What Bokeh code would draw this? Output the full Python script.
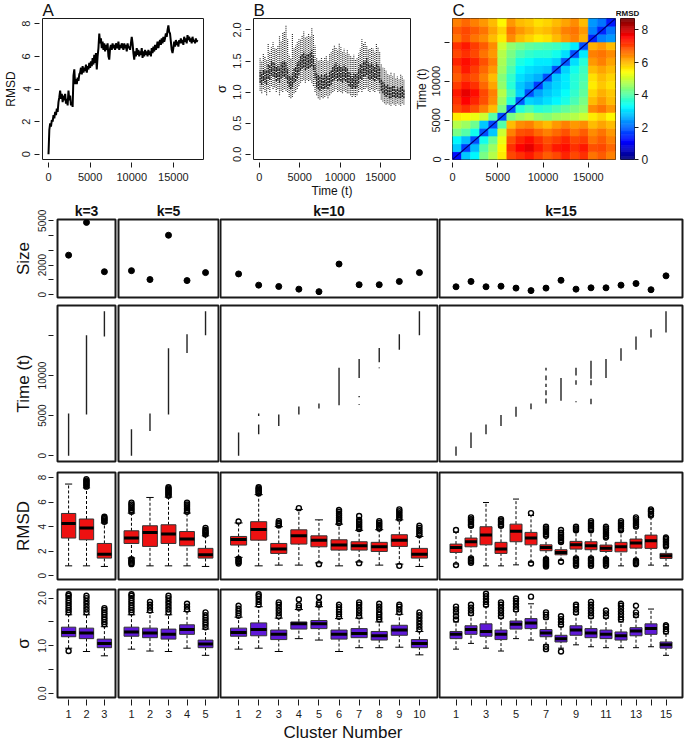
import math
from bokeh.plotting import figure
from bokeh.layouts import column, row
from bokeh.models import FixedTicker, LinearColorMapper, Title, ColumnDataSource
from bokeh.embed import file_html
from bokeh.resources import INLINE

FONT = "Liberation Sans"

# ---------------- Panel A: RMSD trace (time step 100) ----------------
rmsd_t_step = 100
rmsd_trace = [
    0.0, 1.5, 1.9, 1.7, 2.1, 2.0, 2.4, 2.2, 2.6, 2.4,
    2.8, 2.6, 3.2, 3.5, 3.9, 3.4, 3.7, 3.2, 3.6, 3.3,
    3.7, 3.1, 3.4, 3.0, 3.9, 3.3, 3.6, 3.0, 3.2, 2.9,
    4.8, 5.2, 4.3, 4.6, 4.3, 4.7, 4.5, 4.9, 5.0, 5.3,
    4.9, 5.4, 5.0, 5.3, 5.1, 5.5, 5.0, 5.4, 5.2, 5.6,
    5.3, 5.7, 5.4, 5.9, 5.5, 6.1, 5.6, 6.2, 5.2, 6.0,
    6.5, 7.4, 6.8, 7.1, 6.5, 6.9, 6.4, 6.8, 6.3, 6.7,
    6.4, 6.8, 6.0, 5.8, 6.5, 6.7, 6.4, 6.8, 6.5, 6.7,
    6.4, 6.8, 6.6, 6.5, 6.9, 6.4, 6.7, 6.5, 6.8, 6.6,
    6.4, 6.8, 6.5, 6.7, 6.3, 6.8, 6.5, 6.6, 6.4, 6.8,
    7.2, 6.8, 6.2, 5.8, 6.3, 6.0, 6.5, 6.1, 6.4, 6.0,
    6.3, 6.1, 6.5, 5.9, 6.3, 6.0, 6.4, 6.1, 6.3, 6.0,
    6.4, 6.1, 6.3, 6.0, 6.5, 6.2, 6.6, 6.3, 6.7, 6.4,
    6.6, 6.9, 6.5, 6.8, 7.0, 6.7, 7.1, 6.8, 7.2, 6.9,
    7.1, 7.4, 7.2, 7.6, 7.9, 7.5, 7.4, 6.9, 6.4, 6.2,
    6.5, 6.9, 6.6, 7.0, 6.7, 6.9, 6.6, 7.0, 6.8, 7.1,
    6.8, 7.0, 6.7, 7.2, 6.9, 7.1, 6.8, 7.3, 7.0, 7.2,
    6.9, 7.1, 6.8, 7.2, 6.9, 7.0, 6.8, 7.1, 6.9, 7.0,
]

# ---------------- Panel B: sigma scatter (bins of 200 time units) ----------------
sig_t_step = 200
sig_lo = [1.02, 0.98, 1.05, 1.00, 0.95, 1.05, 1.00, 1.10, 1.05, 1.08,
          1.00, 1.05, 0.95, 1.02, 1.00, 1.05, 1.02, 1.00, 0.92, 0.90,
          0.92, 0.98, 1.00, 1.05, 1.10, 1.15, 1.18, 1.20, 1.15, 1.20,
          1.18, 1.20, 1.15, 1.10, 1.00, 0.95, 0.90, 0.88, 0.92, 0.90,
          0.92, 0.95, 0.90, 0.95, 0.98, 1.00, 1.02, 1.05, 1.00, 1.02,
          1.00, 0.98, 1.02, 1.00, 0.98, 0.98, 0.95, 0.92, 0.95, 0.92,
          0.95, 1.00, 1.05, 1.00, 1.05, 1.05, 1.08, 1.02, 1.00, 1.05,
          1.02, 1.00, 1.05, 1.02, 0.98, 0.88, 0.85, 0.82, 0.80, 0.82,
          0.80, 0.78, 0.82, 0.80, 0.78, 0.82, 0.80, 0.78, 0.82, 0.80]
sig_q1 = [1.15, 1.12, 1.18, 1.15, 1.12, 1.22, 1.20, 1.28, 1.25, 1.24,
          1.18, 1.20, 1.15, 1.22, 1.25, 1.25, 1.22, 1.15, 1.08, 1.05,
          1.08, 1.15, 1.18, 1.22, 1.28, 1.35, 1.38, 1.40, 1.35, 1.38,
          1.38, 1.40, 1.42, 1.35, 1.22, 1.08, 1.05, 1.02, 1.06, 1.05,
          1.06, 1.08, 1.05, 1.10, 1.12, 1.18, 1.20, 1.22, 1.18, 1.20,
          1.18, 1.15, 1.20, 1.18, 1.15, 1.10, 1.08, 1.05, 1.08, 1.06,
          1.08, 1.15, 1.22, 1.20, 1.25, 1.25, 1.28, 1.22, 1.20, 1.22,
          1.20, 1.18, 1.22, 1.20, 1.15, 1.02, 0.98, 0.95, 0.92, 0.95,
          0.90, 0.90, 0.92, 0.92, 0.90, 0.92, 0.90, 0.90, 0.92, 0.90]
sig_q3 = [1.35, 1.32, 1.38, 1.36, 1.34, 1.45, 1.42, 1.52, 1.48, 1.46,
          1.42, 1.45, 1.40, 1.48, 1.50, 1.50, 1.48, 1.40, 1.28, 1.25,
          1.30, 1.38, 1.42, 1.48, 1.52, 1.58, 1.62, 1.65, 1.60, 1.62,
          1.62, 1.65, 1.68, 1.58, 1.45, 1.30, 1.28, 1.25, 1.28, 1.25,
          1.28, 1.30, 1.26, 1.32, 1.35, 1.42, 1.45, 1.48, 1.42, 1.45,
          1.42, 1.40, 1.45, 1.40, 1.38, 1.32, 1.30, 1.26, 1.30, 1.28,
          1.30, 1.38, 1.45, 1.45, 1.50, 1.50, 1.55, 1.48, 1.45, 1.48,
          1.45, 1.42, 1.48, 1.45, 1.40, 1.22, 1.18, 1.15, 1.10, 1.12,
          1.08, 1.08, 1.10, 1.10, 1.05, 1.08, 1.06, 1.08, 1.10, 1.05]
sig_hi = [1.55, 1.50, 1.62, 1.58, 1.52, 1.78, 1.65, 1.72, 1.80, 1.70,
          1.70, 1.75, 1.90, 1.82, 1.95, 1.98, 2.08, 1.85, 1.60, 1.55,
          1.95, 1.70, 1.75, 1.80, 1.85, 1.85, 1.92, 1.98, 1.88, 1.90,
          1.95, 1.90, 2.03, 1.92, 1.75, 1.55, 1.50, 1.52, 1.55, 1.50,
          1.55, 1.58, 1.50, 1.62, 1.65, 1.70, 1.75, 1.72, 1.68, 1.78,
          1.72, 1.65, 1.70, 1.62, 1.68, 1.62, 1.58, 1.55, 1.60, 1.52,
          1.55, 1.62, 1.70, 1.85, 1.78, 1.82, 1.75, 1.68, 1.70, 1.72,
          1.70, 1.65, 1.78, 1.72, 1.65, 1.45, 1.40, 1.38, 1.35, 1.30,
          1.28, 1.32, 1.25, 1.30, 1.22, 1.25, 1.22, 1.28, 1.25, 1.20]

# ---------------- Panel C: pairwise RMSD matrix (1000-unit bins, upper triangle) ----------------
heat_bin = 1000
heat_upper = [
    [1.2, 2.8, 3.2, 4.3, 4.8, 5.6, 7.0, 7.2, 7.4, 7.1, 6.8, 7.0, 7.3, 7.0, 7.2, 6.6, 6.8, 6.5],
    [1.6, 2.7, 4.0, 4.6, 5.5, 7.2, 7.6, 7.8, 7.4, 7.1, 7.4, 7.5, 7.2, 7.4, 6.9, 7.0, 6.7],
    [1.8, 3.4, 4.2, 5.3, 6.9, 7.3, 7.5, 7.2, 6.9, 7.1, 7.3, 7.0, 7.1, 6.6, 6.8, 6.5],
    [1.8, 2.8, 5.0, 6.5, 6.9, 7.0, 6.7, 6.5, 6.7, 6.9, 6.6, 6.8, 6.4, 6.6, 6.3],
    [1.7, 4.0, 6.0, 6.4, 6.5, 6.2, 6.0, 6.3, 6.5, 6.3, 6.4, 6.0, 6.2, 6.0],
    [1.8, 4.3, 4.6, 4.8, 4.5, 4.4, 4.6, 4.7, 4.8, 5.0, 5.6, 5.8, 5.5],
    [1.8, 3.6, 3.9, 3.6, 3.7, 3.9, 4.1, 4.3, 4.5, 6.4, 6.6, 6.3],
    [1.9, 2.9, 2.8, 3.0, 3.2, 3.5, 3.9, 4.3, 6.0, 6.3, 6.0],
    [1.8, 2.5, 2.8, 3.0, 3.3, 3.7, 4.1, 5.8, 6.1, 5.9],
    [1.6, 2.6, 2.9, 3.1, 3.6, 4.0, 5.6, 5.9, 5.7],
    [1.8, 2.8, 3.1, 3.6, 3.9, 5.7, 6.0, 5.8],
    [1.8, 2.9, 3.4, 3.8, 6.0, 6.2, 6.0],
    [1.9, 3.0, 3.6, 6.3, 6.5, 6.2],
    [1.8, 3.1, 6.5, 6.6, 6.4],
    [1.8, 6.1, 6.3, 6.0],
    [1.4, 2.2, 2.4],
    [1.4, 2.1],
    [1.3],
]
heat_max = 8.7
colorbar_ticks = [0, 2, 4, 6, 8]

# ---------------- Cluster sizes ----------------
size_k3 = [2670, 4890, 1550]
size_k5 = [1620, 1020, 4020, 950, 1490]
size_k10 = [1400, 640, 550, 370, 200, 2070, 670, 670, 890, 1490]
size_k15 = [530, 890, 530, 570, 440, 270, 440, 970, 370, 460, 460, 640, 750, 330, 1270]

# ---------------- Cluster time spans (cluster, t_start, t_end) ----------------
time_k3 = [(1, 0, 5270), (2, 5150, 15000), (3, 14850, 17990)]
time_k5 = [(1, 0, 3300), (2, 3090, 5270), (3, 5150, 13380), (4, 12800, 15150), (5, 15000, 17990)]
time_k10 = [(1, 0, 2890), (2, 2680, 3900), (2, 4940, 5270), (3, 3700, 5150), (4, 5150, 6140),
            (5, 5900, 6500), (6, 6300, 10950), (7, 9670, 12060), (7, 7300, 7450), (7, 6350, 6450),
            (8, 11650, 13420), (8, 10900, 11000), (9, 13200, 15150), (10, 15000, 17990)]
time_k15 = [(1, 0, 1160), (2, 950, 2890), (3, 2680, 3900), (4, 3700, 5060), (5, 4860, 6100),
            (6, 5800, 6500), (7, 10620, 10950), (7, 9400, 10000), (7, 8560, 8980), (7, 7540, 8150),
            (7, 6500, 7120), (8, 6840, 9680), (9, 10000, 10950), (9, 8850, 9400), (9, 6650, 6800),
            (10, 9600, 11850), (10, 8770, 9400), (10, 6400, 7100), (11, 9670, 12060),
            (12, 11850, 13380), (13, 13200, 14860), (14, 14740, 15770), (15, 15360, 17990)]

# ---------------- RMSD boxplots: (lower whisker, q1, median, q3, upper whisker) ----------------
rmsd_box_k3 = [(0.81, 3.07, 4.26, 5.07, 7.46), (0.81, 2.93, 3.88, 4.62, 7.15), (0.76, 1.44, 1.76, 2.63, 4.30)]
rmsd_out_hi_k3 = [[], [7.25, 7.35, 7.45, 7.55, 7.65, 7.75, 7.86], [4.4, 4.5, 4.6, 4.7, 4.8]]
rmsd_out_lo_k3 = [[], [], []]

rmsd_box_k5 = [(1.45, 2.63, 3.07, 3.66, 5.10), (0.81, 2.39, 3.53, 4.07, 6.37), (0.81, 2.63, 3.39, 4.15, 6.40),
               (0.81, 2.44, 2.99, 3.60, 5.10), (0.76, 1.44, 1.71, 2.23, 3.25)]
rmsd_out_hi_k5 = [[5.2, 5.35, 5.5, 5.65, 5.8, 5.95], [], [6.5, 6.6, 6.7, 6.8, 6.9, 7.0, 7.1, 7.2],
                  [5.2, 5.35, 5.5, 5.65, 5.8, 5.95], [3.35, 3.45, 3.55, 3.65, 3.75, 3.9]]
rmsd_out_lo_k5 = [[1.35, 1.25, 1.15, 1.05, 0.95], [], [], [], []]

rmsd_box_k10 = [(1.50, 2.50, 2.96, 3.20, 4.30), (0.81, 2.90, 3.77, 4.40, 6.60), (0.87, 1.82, 2.17, 2.63, 4.00),
                (0.87, 2.58, 3.25, 3.74, 5.40), (1.05, 2.36, 2.90, 3.25, 4.55), (0.81, 2.09, 2.50, 2.93, 4.20),
                (1.12, 2.09, 2.44, 2.77, 3.70), (0.87, 1.98, 2.36, 2.72, 3.75), (0.95, 2.39, 2.90, 3.34, 4.55),
                (0.76, 1.44, 1.76, 2.23, 3.20)]
rmsd_out_hi_k10 = [[4.42], [6.7, 6.8, 6.9, 7.0, 7.1, 7.2], [4.1, 4.2, 4.3, 4.45], [5.5], [],
                   [4.3, 4.45, 4.6, 4.75, 4.9, 5.05, 5.2, 5.35], [3.8, 3.95, 4.1, 4.25, 4.4, 4.55, 4.86],
                   [3.85, 4.0, 4.15, 4.3, 4.45], [4.65, 4.8, 4.95, 5.1, 5.25, 5.4],
                   [3.3, 3.45, 3.6, 3.75, 3.9, 4.07]]
rmsd_out_lo_k10 = [[1.4, 1.3, 1.2, 1.1, 1.0], [], [], [], [0.95], [], [1.03], [], [0.81], []]

rmsd_box_k15 = [(0.95, 1.90, 2.31, 2.58, 3.55), (1.50, 2.36, 2.77, 3.07, 3.95), (0.81, 2.52, 3.31, 3.99, 5.96),
                (0.81, 1.82, 2.17, 2.72, 3.95), (0.89, 2.77, 3.63, 4.20, 6.24), (1.10, 2.52, 3.07, 3.53, 4.90),
                (1.45, 2.04, 2.31, 2.52, 3.20), (1.25, 1.71, 1.90, 2.12, 2.65), (1.50, 2.17, 2.52, 2.80, 3.60),
                (1.50, 2.12, 2.44, 2.77, 3.60), (1.45, 1.98, 2.25, 2.50, 3.05), (0.81, 1.95, 2.36, 2.72, 3.60),
                (1.35, 2.25, 2.66, 2.99, 3.90), (0.87, 2.23, 2.85, 3.31, 4.80), (0.81, 1.41, 1.63, 1.82, 2.30)]
rmsd_out_hi_k15 = [[3.72], [4.07, 4.2, 4.35, 4.5, 4.6, 4.75], [], [4.07, 4.2, 4.35, 4.5, 4.61], [], [5.1],
                   [3.25, 3.4, 3.55, 3.7, 3.85, 3.99], [2.75, 2.9, 3.05, 3.2, 3.35, 3.5, 3.72],
                   [3.7, 3.85, 3.99], [3.7, 3.85, 4.0, 4.15, 4.3, 4.45], [3.12, 3.25, 3.4, 3.55, 3.7, 3.85, 3.99],
                   [3.7, 3.85, 4.0, 4.15, 4.3, 4.45], [4.0, 4.15, 4.3, 4.45, 4.6, 4.75],
                   [4.9, 5.05, 5.2, 5.3, 5.4], [2.39, 2.5, 2.62, 2.75, 2.88, 3.0, 3.12]]
rmsd_out_lo_k15 = [[0.87], [1.42, 1.3, 1.18, 1.06], [], [], [], [1.0],
                   [1.35, 1.25, 1.15, 1.05, 0.95, 0.85, 0.76], [1.14],
                   [1.42, 1.3, 1.18, 1.05, 0.93, 0.81], [1.42, 1.3, 1.18, 1.05, 0.93, 0.81],
                   [1.35, 1.25, 1.15, 1.05, 0.93, 0.81], [], [1.25, 1.15, 1.05, 0.95], [], []]

# ---------------- sigma boxplots ----------------
sig_box_k3 = [(0.95, 1.19, 1.28, 1.39, 1.65), (0.88, 1.15, 1.27, 1.37, 1.65), (0.79, 0.96, 1.05, 1.14, 1.40)]
sig_out_hi_k3 = [[1.7, 1.75, 1.8, 1.85, 1.9, 1.95, 2.0, 2.05, 2.08], [1.7, 1.76, 1.82, 1.88, 1.94, 2.0, 2.05],
                 [1.45, 1.5, 1.55, 1.6, 1.65, 1.7, 1.75, 1.79]]
sig_out_lo_k3 = [[0.89], [], []]

sig_box_k5 = [(0.93, 1.20, 1.29, 1.39, 1.65), (0.89, 1.17, 1.27, 1.37, 1.70), (0.88, 1.14, 1.24, 1.35, 1.65),
              (0.95, 1.24, 1.34, 1.44, 1.72), (0.80, 0.96, 1.04, 1.12, 1.35)]
sig_out_hi_k5 = [[1.7, 1.75, 1.8, 1.85, 1.9, 1.95, 2.0, 2.05, 2.08], [1.74, 1.8, 1.86, 1.92],
                 [1.7, 1.76, 1.82, 1.88, 1.94, 2.0, 2.05], [1.76, 1.82, 1.88],
                 [1.39, 1.44, 1.49, 1.54, 1.59, 1.64, 1.7]]
sig_out_lo_k5 = [[], [], [], [], []]

sig_box_k10 = [(0.93, 1.20, 1.28, 1.37, 1.60), (0.95, 1.21, 1.34, 1.48, 1.82), (0.88, 1.13, 1.24, 1.33, 1.58),
               (1.15, 1.35, 1.46, 1.50, 1.76), (1.12, 1.36, 1.46, 1.53, 1.82), (0.88, 1.14, 1.24, 1.33, 1.57),
               (0.96, 1.17, 1.26, 1.36, 1.58), (0.96, 1.12, 1.21, 1.30, 1.50), (0.97, 1.22, 1.33, 1.43, 1.66),
               (0.81, 0.96, 1.05, 1.13, 1.30)]
sig_out_hi_k10 = [[1.63, 1.68, 1.73, 1.78, 1.84], [1.86, 1.92, 1.98, 2.04, 2.08],
                  [1.62, 1.68, 1.74, 1.8, 1.86, 1.91], [1.8, 1.85, 1.97], [1.86, 1.9, 2.02],
                  [1.61, 1.66, 1.71, 1.76, 1.81, 1.86], [1.62, 1.68, 1.74, 1.8, 1.86, 1.91],
                  [1.55, 1.6, 1.65, 1.7, 1.76, 1.82, 1.88], [1.7, 1.76, 1.82, 1.86],
                  [1.34, 1.4, 1.46, 1.52, 1.58, 1.64, 1.7]]
sig_out_lo_k10 = [[], [], [], [], [], [], [], [], [], []]

sig_box_k15 = [(0.93, 1.15, 1.24, 1.30, 1.50), (1.05, 1.24, 1.34, 1.42, 1.64), (0.95, 1.20, 1.30, 1.46, 1.82),
               (0.89, 1.13, 1.24, 1.33, 1.58), (1.15, 1.35, 1.45, 1.52, 1.72), (1.12, 1.36, 1.48, 1.57, 1.88),
               (1.02, 1.19, 1.27, 1.34, 1.56), (0.95, 1.08, 1.15, 1.22, 1.40), (1.02, 1.22, 1.33, 1.42, 1.66),
               (0.98, 1.17, 1.27, 1.36, 1.58), (0.96, 1.15, 1.24, 1.33, 1.58), (0.96, 1.12, 1.21, 1.29, 1.50),
               (0.96, 1.21, 1.31, 1.38, 1.60), (0.98, 1.24, 1.36, 1.46, 1.77), (0.80, 0.95, 1.02, 1.08, 1.25)]
sig_out_hi_k15 = [[1.55, 1.62, 1.7, 1.76, 1.82], [1.68, 1.74, 1.8, 1.86], [1.86, 1.92, 1.98, 2.04, 2.09],
                  [1.62, 1.68, 1.74, 1.8, 1.86, 1.91], [1.76, 1.82, 1.88, 1.94, 1.99], [2.03],
                  [1.6, 1.65, 1.7], [1.44, 1.5, 1.56, 1.62], [1.7, 1.76, 1.82, 1.86],
                  [1.62, 1.68, 1.74, 1.8, 1.86, 1.92], [1.62, 1.68, 1.74],
                  [1.55, 1.6, 1.66, 1.72, 1.78, 1.84, 1.88], [1.64, 1.7, 1.84], [], [1.3, 1.35, 1.4, 1.43]]
sig_out_lo_k15 = [[], [], [], [], [], [], [0.98, 0.93], [0.88], [], [], [], [], [], [], []]

k_values = [3, 5, 10, 15]
k_titles = ["k=3", "k=5", "k=10", "k=15"]
size_by_k = [size_k3, size_k5, size_k10, size_k15]
time_by_k = [time_k3, time_k5, time_k10, time_k15]
rmsd_boxes = [rmsd_box_k3, rmsd_box_k5, rmsd_box_k10, rmsd_box_k15]
rmsd_hi = [rmsd_out_hi_k3, rmsd_out_hi_k5, rmsd_out_hi_k10, rmsd_out_hi_k15]
rmsd_lo = [rmsd_out_lo_k3, rmsd_out_lo_k5, rmsd_out_lo_k10, rmsd_out_lo_k15]
sig_boxes = [sig_box_k3, sig_box_k5, sig_box_k10, sig_box_k15]
sig_hi_out = [sig_out_hi_k3, sig_out_hi_k5, sig_out_hi_k10, sig_out_hi_k15]
sig_lo_out = [sig_out_lo_k3, sig_out_lo_k5, sig_out_lo_k10, sig_out_lo_k15]

RMSD_FILL = "#ee1111"
SIG_FILL = "#5f19d8"
INK = "#1a1a1a"


def jet(n):
    cols = []
    for i in range(n):
        v = i / (n - 1)
        r = min(1.0, max(0.0, 1.5 - abs(4 * v - 3)))
        g = min(1.0, max(0.0, 1.5 - abs(4 * v - 2)))
        b = min(1.0, max(0.0, 1.5 - abs(4 * v - 1)))
        cols.append("#%02x%02x%02x" % (int(r * 255), int(g * 255), int(b * 255)))
    return cols


def style(p, tick_size="11px", outline=1.0):
    p.toolbar_location = None
    p.grid.visible = False
    p.outline_line_color = INK
    p.outline_line_width = outline
    p.background_fill_color = "white"
    p.border_fill_color = "white"
    for ax in p.axis:
        ax.axis_line_color = None
        ax.major_tick_in = -3
        ax.major_tick_out = 8
        ax.major_tick_line_color = INK
        ax.minor_tick_line_color = None
        ax.major_label_text_font = FONT
        ax.major_label_text_font_size = tick_size
        ax.major_label_text_color = INK
        ax.major_label_standoff = 5
        ax.axis_label_text_font = FONT
        ax.axis_label_text_font_style = "normal"
        ax.axis_label_text_color = "#111111"
        ax.axis_label_standoff = 2
    for ax in p.yaxis:
        ax.major_label_orientation = "parallel"
        ax.major_label_standoff = 4


def set_title(p, text, size, bold=False, align="left", offset=0, standoff=1):
    p.title = Title(text=text, align=align, text_font=FONT, text_font_size=size,
                    text_font_style="bold" if bold else "normal", text_color="#111111",
                    standoff=standoff, offset=offset)


TOP_H = 200
time_ticks = [0, 5000, 10000, 15000]

# ---- A ----
tA = [i * rmsd_t_step for i in range(len(rmsd_trace))]
pA = figure(width=210, height=TOP_H, x_range=(-720, 18620), y_range=(-0.32, 8.32),
            output_backend="svg", toolbar_location=None,
            min_border_left=42, min_border_right=7, min_border_top=15, min_border_bottom=37)
pA.line(tA, rmsd_trace, line_color="black", line_width=2)
style(pA)
pA.xaxis.ticker = FixedTicker(ticks=time_ticks)
pA.yaxis.ticker = FixedTicker(ticks=[0, 2, 4, 6, 8])
pA.yaxis.axis_label = "RMSD"
pA.yaxis.axis_label_text_font_size = "12px"
set_title(pA, "A", "17px", standoff=-3)

# ---- B ----
tB = [sig_t_step / 2 + i * sig_t_step for i in range(len(sig_lo))]
pB = figure(width=201, height=TOP_H, x_range=(-720, 18720), y_range=(-0.084, 2.184),
            output_backend="svg", toolbar_location=None,
            min_border_left=35, min_border_right=1, min_border_top=15, min_border_bottom=37)
pB.segment(tB, sig_lo, tB, sig_hi, line_color="black", line_width=1.2, line_alpha=0.8, line_dash="1 1")
pB.segment(tB, sig_q1, tB, sig_q3, line_color="black", line_width=1.4, line_alpha=0.85, line_dash="2 1")
style(pB)
pB.xaxis.ticker = FixedTicker(ticks=time_ticks)
pB.yaxis.ticker = FixedTicker(ticks=[0, 0.5, 1.0, 1.5, 2.0])
pB.yaxis.major_label_overrides = {0: "0.0", 0.5: "0.5", 1: "1.0", 1.5: "1.5", 2: "2.0"}
pB.yaxis.axis_label = "σ"
pB.yaxis.axis_label_text_font_size = "13px"
pB.xaxis.axis_label = "Time (t)"
pB.xaxis.axis_label_text_font_size = "12px"
pB.xaxis.axis_label_standoff = 0
set_title(pB, "B", "17px", standoff=-3)

# ---- C ----
nb = len(heat_upper)
hx, hy, hv = [], [], []
for i in range(nb):
    for j in range(nb):
        hx.append(heat_bin / 2 + j * heat_bin)
        hy.append(heat_bin / 2 + i * heat_bin)
        hv.append(heat_upper[min(i, j)][max(i, j) - min(i, j)])
t_end = nb * heat_bin
palette = jet(256)
mapper = LinearColorMapper(palette=palette, low=0, high=heat_max)
pC = figure(width=205, height=TOP_H, x_range=(0, t_end), y_range=(0, t_end),
            output_backend="svg", toolbar_location=None,
            min_border_left=41, min_border_right=1, min_border_top=16, min_border_bottom=38)
hsrc = ColumnDataSource(dict(x=hx, y=hy, v=hv))
pC.rect(x="x", y="y", width=heat_bin, height=heat_bin, source=hsrc,
        fill_color={"field": "v", "transform": mapper},
        line_color={"field": "v", "transform": mapper}, line_width=0.6)
pC.line([0, t_end], [0, t_end], line_color="#00007a", line_width=1.2)
style(pC)
pC.xaxis.ticker = FixedTicker(ticks=time_ticks)
pC.yaxis.ticker = FixedTicker(ticks=time_ticks)
pC.yaxis.major_label_overrides = {15000: ""}
pC.yaxis.axis_label = "Time (t)"
pC.yaxis.axis_label_text_font_size = "12px"
pC.yaxis.axis_label_standoff = 1
set_title(pC, "C", "17px", standoff=-3)

# ---- colour bar (own small figure) ----
n_cb = 128
cb_bottom = [heat_max * i / n_cb for i in range(n_cb)]
cb_top = [heat_max * (i + 1) / n_cb for i in range(n_cb)]
cb_col = [palette[int(round(i * (len(palette) - 1) / (n_cb - 1)))] for i in range(n_cb)]
pCB = figure(width=59, height=TOP_H, x_range=(0, 1), y_range=(0, heat_max),
             output_backend="svg", toolbar_location=None, y_axis_location="right",
             min_border_left=4, min_border_right=41, min_border_top=17, min_border_bottom=38)
pCB.quad(left=0, right=1, bottom=cb_bottom, top=cb_top, fill_color=cb_col, line_color=cb_col, line_width=0.5)
style(pCB)
pCB.xaxis.visible = False
pCB.yaxis.ticker = FixedTicker(ticks=colorbar_ticks)
pCB.yaxis.major_label_orientation = "horizontal"
pCB.yaxis.major_tick_in = 0
pCB.yaxis.major_tick_out = 4
pCB.yaxis.major_label_standoff = 3
pCB.yaxis.major_label_text_font_size = "12px"
set_title(pCB, "RMSD", "8px", bold=True, align="center", offset=8)

top_row = row(pA, pB, pC, pCB)

# ---------------- bottom grid ----------------
col_w = [117, 102, 219, 246]
col_left = [57, 1, 1, 1]
col_right = [2, 1, 1, 2]
rows_spec = {"size": (99, 17, 2), "time": (166, 6, 4), "rmsd": (119, 7, 5), "sig": (157, 5, 43)}
yranges = {"size": (-196, 5086), "time": (-720, 18720), "rmsd": (-0.3, 8.4), "sig": (-0.084, 2.18)}
ylabels = {"size": "Size", "time": "Time (t)", "rmsd": "RMSD", "sig": "σ"}


def make_fig(ci, kind):
    k = k_values[ci]
    h, bt, bb = rows_spec[kind]
    pad = 0.04 * k
    p = figure(width=col_w[ci], height=h, x_range=(0.5 - pad, k + 0.5 + pad), y_range=yranges[kind],
               output_backend="svg", toolbar_location=None,
               min_border_left=col_left[ci], min_border_right=col_right[ci],
               min_border_top=bt, min_border_bottom=bb)
    style(p, tick_size="10px", outline=2)
    if ci == 0:
        p.yaxis.axis_label = ylabels[kind]
        p.yaxis.axis_label_text_font_size = "17px"
        p.yaxis.axis_label_standoff = 3
        p.yaxis.major_tick_in = -4
        p.yaxis.major_tick_out = 9
        p.yaxis.major_label_standoff = 2
    else:
        p.yaxis.visible = False
    if kind == "sig":
        p.xaxis.ticker = FixedTicker(ticks=list(range(1, k + 1)))
        p.xaxis.major_label_text_font_size = "11px"
        p.xaxis.major_tick_in = -2
        p.xaxis.major_tick_out = 8
        p.xaxis.major_label_standoff = 4
        if k == 15:
            p.xaxis.major_label_overrides = {i: "" for i in range(2, k + 1, 2)}
    else:
        p.xaxis.visible = False
    return p


def draw_boxes(p, boxes, out_hi, out_lo, fill):
    xs = list(range(1, len(boxes) + 1))
    lo = [b[0] for b in boxes]
    q1 = [b[1] for b in boxes]
    med = [b[2] for b in boxes]
    q3 = [b[3] for b in boxes]
    hi = [b[4] for b in boxes]
    bw = 0.8
    p.segment(xs, q3, xs, hi, line_color="black", line_width=1, line_dash="3 2")
    p.segment(xs, lo, xs, q1, line_color="black", line_width=1, line_dash="3 2")
    p.segment([x - bw / 4 for x in xs], hi, [x + bw / 4 for x in xs], hi, line_color="black", line_width=1)
    p.segment([x - bw / 4 for x in xs], lo, [x + bw / 4 for x in xs], lo, line_color="black", line_width=1)
    p.vbar(x=xs, bottom=q1, top=q3, width=bw, fill_color=fill, line_color="#333333", line_width=1)
    p.segment([x - bw / 2 for x in xs], med, [x + bw / 2 for x in xs], med, line_color="black", line_width=3)
    ox, oy = [], []
    for x, vals in zip(xs, out_hi):
        for v in vals:
            ox.append(x)
            oy.append(v)
    for x, vals in zip(xs, out_lo):
        for v in vals:
            ox.append(x)
            oy.append(v)
    if ox:
        p.scatter(ox, oy, marker="circle", size=5, fill_color=None, line_color="black", line_width=1.4)


grid_rows = []
figs = []
for ci in range(4):
    p = make_fig(ci, "size")
    sz = size_by_k[ci]
    p.scatter(list(range(1, len(sz) + 1)), sz, marker="circle", size=6, fill_color="black", line_color="black")
    if ci == 0:
        p.yaxis.ticker = FixedTicker(ticks=[0, 1000, 2000, 3000, 4000, 5000])
        p.yaxis.major_label_overrides = {1000: "", 3000: "", 4000: ""}
    set_title(p, k_titles[ci], "14px", bold=True, align="center")
    figs.append(p)
grid_rows.append(row(*figs))

figs = []
for ci in range(4):
    p = make_fig(ci, "time")
    segs = time_by_k[ci]
    p.segment([s[0] for s in segs], [s[1] for s in segs], [s[0] for s in segs], [s[2] for s in segs],
              line_color="#222222", line_width=1.4)
    if ci == 0:
        p.yaxis.ticker = FixedTicker(ticks=time_ticks)
        p.yaxis.major_label_overrides = {15000: ""}
    figs.append(p)
grid_rows.append(row(*figs))

figs = []
for ci in range(4):
    p = make_fig(ci, "rmsd")
    draw_boxes(p, rmsd_boxes[ci], rmsd_hi[ci], rmsd_lo[ci], RMSD_FILL)
    if ci == 0:
        p.yaxis.ticker = FixedTicker(ticks=[0, 2, 4, 6, 8])
    figs.append(p)
grid_rows.append(row(*figs))

figs = []
for ci in range(4):
    p = make_fig(ci, "sig")
    draw_boxes(p, sig_boxes[ci], sig_hi_out[ci], sig_lo_out[ci], SIG_FILL)
    if ci == 0:
        p.yaxis.ticker = FixedTicker(ticks=[0, 0.5, 1.0, 1.5, 2.0])
        p.yaxis.major_label_overrides = {0: "0.0", 0.5: "", 1: "1.0", 1.5: "", 2: "2.0"}
    if ci == 2:
        p.add_layout(Title(text="Cluster Number", align="left", offset=63, text_font=FONT,
                           text_font_size="17px", text_font_style="normal", text_color="#111111",
                           standoff=0), "below")
    figs.append(p)
grid_rows.append(row(*figs))

layout = column(top_row, *grid_rows)
open("out.html", "w").write(file_html(layout, INLINE))
